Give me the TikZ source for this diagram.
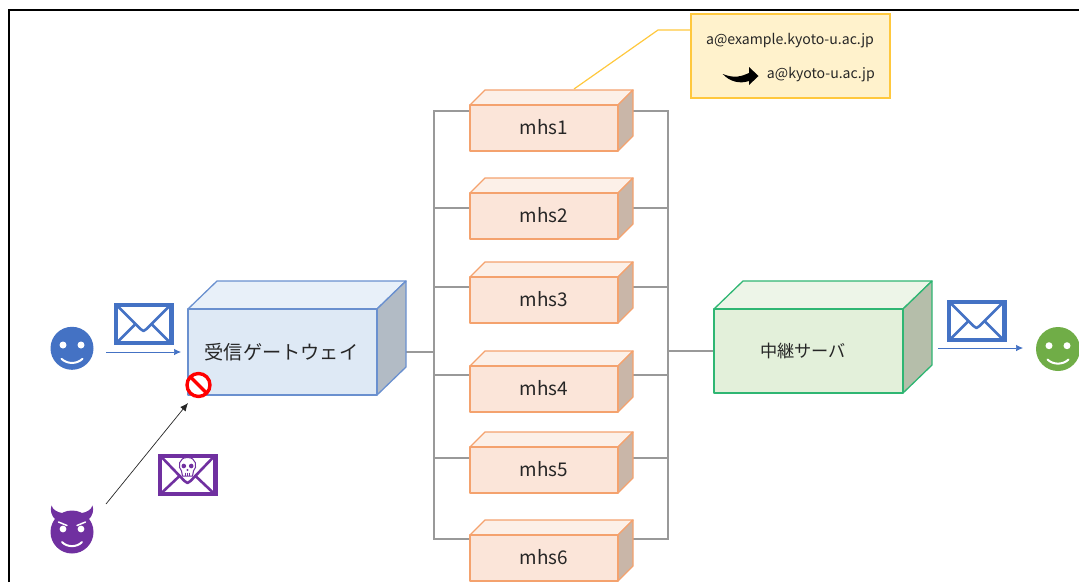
\documentclass[tikz,border=0pt]{standalone}
\usepackage{fontspec}
\setmainfont{Noto Sans CJK JP}
\usetikzlibrary{arrows.meta,backgrounds}
\definecolor{mhsline}{HTML}{F4A26E}
\definecolor{mhsfill}{HTML}{FBE5D9}
\definecolor{mhstop}{HTML}{FCF0E8}
\definecolor{mhsside}{HTML}{C9B6A8}
\definecolor{gwline}{HTML}{6A90CF}
\definecolor{gwfill}{HTML}{DEE9F5}
\definecolor{gwtop}{HTML}{E8F0F9}
\definecolor{gwside}{HTML}{B2BBC5}
\definecolor{rline}{HTML}{2FB673}
\definecolor{rfill}{HTML}{E3F0DA}
\definecolor{rtop}{HTML}{EDF5E8}
\definecolor{rside}{HTML}{B5BEAA}
\definecolor{blueic}{HTML}{4472C4}
\definecolor{purpleic}{HTML}{7030A0}
\definecolor{greenic}{HTML}{70AD47}
\definecolor{notefill}{HTML}{FFF2CC}
\definecolor{noteline}{HTML}{FFC83D}
\definecolor{wiregray}{HTML}{999999}
\definecolor{txt}{HTML}{262626}
\tikzset{
  frameline/.style={draw=black,line width=1.6pt},
  wire/.style={draw=wiregray,line width=1.2pt},
  flow/.style={draw=blueic,line width=0.7pt,-{Latex[length=7pt,width=6.5pt]}},
  attack/.style={draw=black!85,line width=0.7pt,-{Latex[length=8pt,width=7pt]}},
  boxface/.style={line width=1.3pt,line join=round,inner sep=0pt,outer sep=0pt,text=txt},
  notebox/.style={draw=noteline,fill=notefill,line width=1.3pt,inner sep=0pt,outer sep=0pt},
  notetext/.style={text=txt,font=\fontsize{14.1}{16}\selectfont,inner sep=0pt},
  leader/.style={draw=noteline,line width=1.2pt,line join=round},
}
% name, xmin, ymin, xmax, ymax, depth x, depth y, colour prefix, text
\newcommand{\cuboid}[9]{%
  \fill[#8top,draw=#8line,boxface] (#2,#3) -- ++(#6,-#7) -- ++({#4-#2},0) -- ++(-#6,#7) -- cycle;
  \fill[#8side,draw=#8line,boxface] (#4,#3) -- ++(#6,-#7) -- ++(0,{#5-#3}) -- ++(-#6,#7) -- cycle;
  \node[boxface,draw=#8line,fill=#8fill,minimum width={(#4-#2)*1pt},minimum height={(#5-#3)*1pt},anchor=north west] (#1) at (#2,#3) {#9};
}
\newcommand{\mhsbox}[3]{% number, top of front, wire y
  \cuboid{m#1}{470}{#2}{618}{#2+46}{15}{15}{mhs}{\fontsize{18.9}{19}\selectfont\raisebox{1.2pt}{mhs#1}}
  \coordinate (m#1-l) at (470,#3);
  \coordinate (m#1-r) at (633,#3);
  \coordinate (bl#1) at (434,#3);
  \coordinate (br#1) at (668,#3);
}
\newcommand{\envelope}[3]{% x,y,color
  \begin{scope}[shift={(#1,#2)},draw=#3,line join=miter]
    \draw[line width=4.4pt] (2.2,2.2) rectangle (57.8,39.8);
    \draw[line width=2.6pt,line join=round] (4,3) -- (27,26) -- (30,28) -- (33,26) -- (56,3);
    \draw[line width=2.6pt] (4,39) -- (22,21) (56,39) -- (38,21);
  \end{scope}
}
\newcommand{\facemarks}{%
  \draw[white,line width=2pt,line cap=round] (-10.5,10.5) .. controls (-5,16) and (5,16) .. (10.5,10.5);
  \fill[white] (-9,-3.3) circle (3.5) (9,-3.3) circle (3.5);
}
\begin{document}
\begin{tikzpicture}[x=1pt,y=-1pt]
\useasboundingbox (0,0) rectangle (1079,582);
\coordinate (fa) at (9,582);
\coordinate (fb) at (9,10);
\coordinate (fc) at (1079,10);
\draw[frameline] (fa) -- (fb) -- (fc);

% boxes
\cuboid{gw}{188}{309}{377}{395}{29}{28}{gw}{\fontsize{19.2}{19}\selectfont\hspace*{-2pt}受信ゲートウェイ}
\cuboid{relay}{714}{309}{903}{393}{29}{28}{r}{\fontsize{17.2}{17}\selectfont\hspace*{-11pt}中継サーバ}
\mhsbox{1}{105}{111}
\mhsbox{2}{193}{208}
\mhsbox{3}{277}{287}
\mhsbox{4}{366}{375}
\mhsbox{5}{447}{458}
\mhsbox{6}{535}{539}

% wiring behind the boxes
\begin{scope}[on background layer]
  \coordinate (gw-r) at (406,352);
  \coordinate (relay-l) at (714,351);
  \draw[wire] (gw-r) -- (gw-r -| bl1);
  \draw[wire] (relay-l) -- (relay-l -| br1);
  \draw[wire] (m1-l) -- (bl1) -- (bl6) -- (m6-l);
  \draw[wire] (m1-r) -- (br1) -- (br6) -- (m6-r);
  \foreach \i in {2,3,4,5}{
    \draw[wire] (m\i-l) -- (bl\i);
    \draw[wire] (m\i-r) -- (br\i);
  }
\end{scope}

% callout
\node[notebox,minimum width=199pt,minimum height=84pt,anchor=north west] (note) at (691,14) {};
\node[notetext] (addr1) at (790,41) {a@example.kyoto-u.ac.jp};
\node[notetext,anchor=east] (addr2) at (875,75) {a@kyoto-u.ac.jp};
\coordinate (m1-t) at (574,89);
\coordinate (bend) at (658,30);
\draw[leader] (m1-t) -- (bend) -- (bend -| note.west);
\fill[black] (722.7,74) .. controls (735,79) and (742,76) .. (749,73) -- (749,67) -- (758.5,76) -- (749,85) -- (749,81) .. controls (740,84) and (730,82) .. (722.7,74) -- cycle;

% people
\fill[blueic] (72,348.3) circle (21.5);
\begin{scope}[shift={(72,348.3)}]\facemarks\end{scope}
\fill[greenic] (1058,349) circle (22);
\begin{scope}[shift={(1058,349)}]\facemarks\end{scope}

% devil
\begin{scope}[shift={(72,532)}]
  \fill[purpleic] (-16,-12) .. controls (-21,-16) and (-22,-22) .. (-20.5,-26.5) .. controls (-19,-22) and (-15,-20) .. (-10,-19) -- (0,-10) -- cycle;
  \fill[purpleic] (16,-12) .. controls (21,-16) and (22,-22) .. (20.5,-26.5) .. controls (19,-22) and (15,-20) .. (10,-19) -- (0,-10) -- cycle;
  \fill[purpleic] (0,0) circle (21.5);
  \draw[white,line width=2pt,line cap=round] (-10,10) .. controls (-5,15.5) and (5,15.5) .. (10,10);
  \fill[white] (-9,-3) circle (3.4) (9,-3) circle (3.4);
  \draw[white,line width=1.5pt,line cap=round] (-13.5,-10) -- (-5,-6.5) (13.5,-10) -- (5,-6.5);
\end{scope}

% flows
\coordinate (s1) at (106,352);
\coordinate (g1) at (181,352);
\coordinate (s2) at (938,348);
\coordinate (g2) at (1023,348);
\coordinate (s3) at (106,504);
\coordinate (g3) at (188,403);
\draw[flow] (s1) -- (g1);
\draw[flow] (s2) -- (g2);
\draw[attack] (s3) -- (g3);

% envelopes
\envelope{113.5}{303}{blueic}
\envelope{946.5}{300}{blueic}
\begin{scope}[shift={(157.5,454)}]
  \draw[purpleic,line width=4.4pt] (2.2,2.2) rectangle (57.8,39.8);
  \draw[purpleic,line width=2.6pt,line join=round] (4,3) -- (27,27) -- (30,29) -- (33,27) -- (56,3);
  \draw[purpleic,line width=2.6pt] (4,39) -- (22,22) (56,39) -- (38,22);
  \fill[white,draw=purpleic,line width=1pt] (30,3.5) .. controls (21,3.5) and (20,13) .. (24,17) -- (25,22) -- (35,22) -- (36,17) .. controls (40,13) and (39,3.5) .. (30,3.5) -- cycle;
  \fill[purpleic] (26.3,12) circle (2.3) (33.7,12) circle (2.3) (30,16) circle (1.1);
  \draw[purpleic,line width=0.6pt] (28,18.5) -- (28,22) (30,18.5) -- (30,22) (32,18.5) -- (32,22);
\end{scope}

% no-entry sign
\begin{scope}[shift={(198.5,385)}]
  \draw[red,line width=3.4pt,fill=white] (0,0) circle (11.5);
  \draw[red,line width=3.4pt] (-8,-8) -- (8,8);
\end{scope}
\end{tikzpicture}
\end{document}
